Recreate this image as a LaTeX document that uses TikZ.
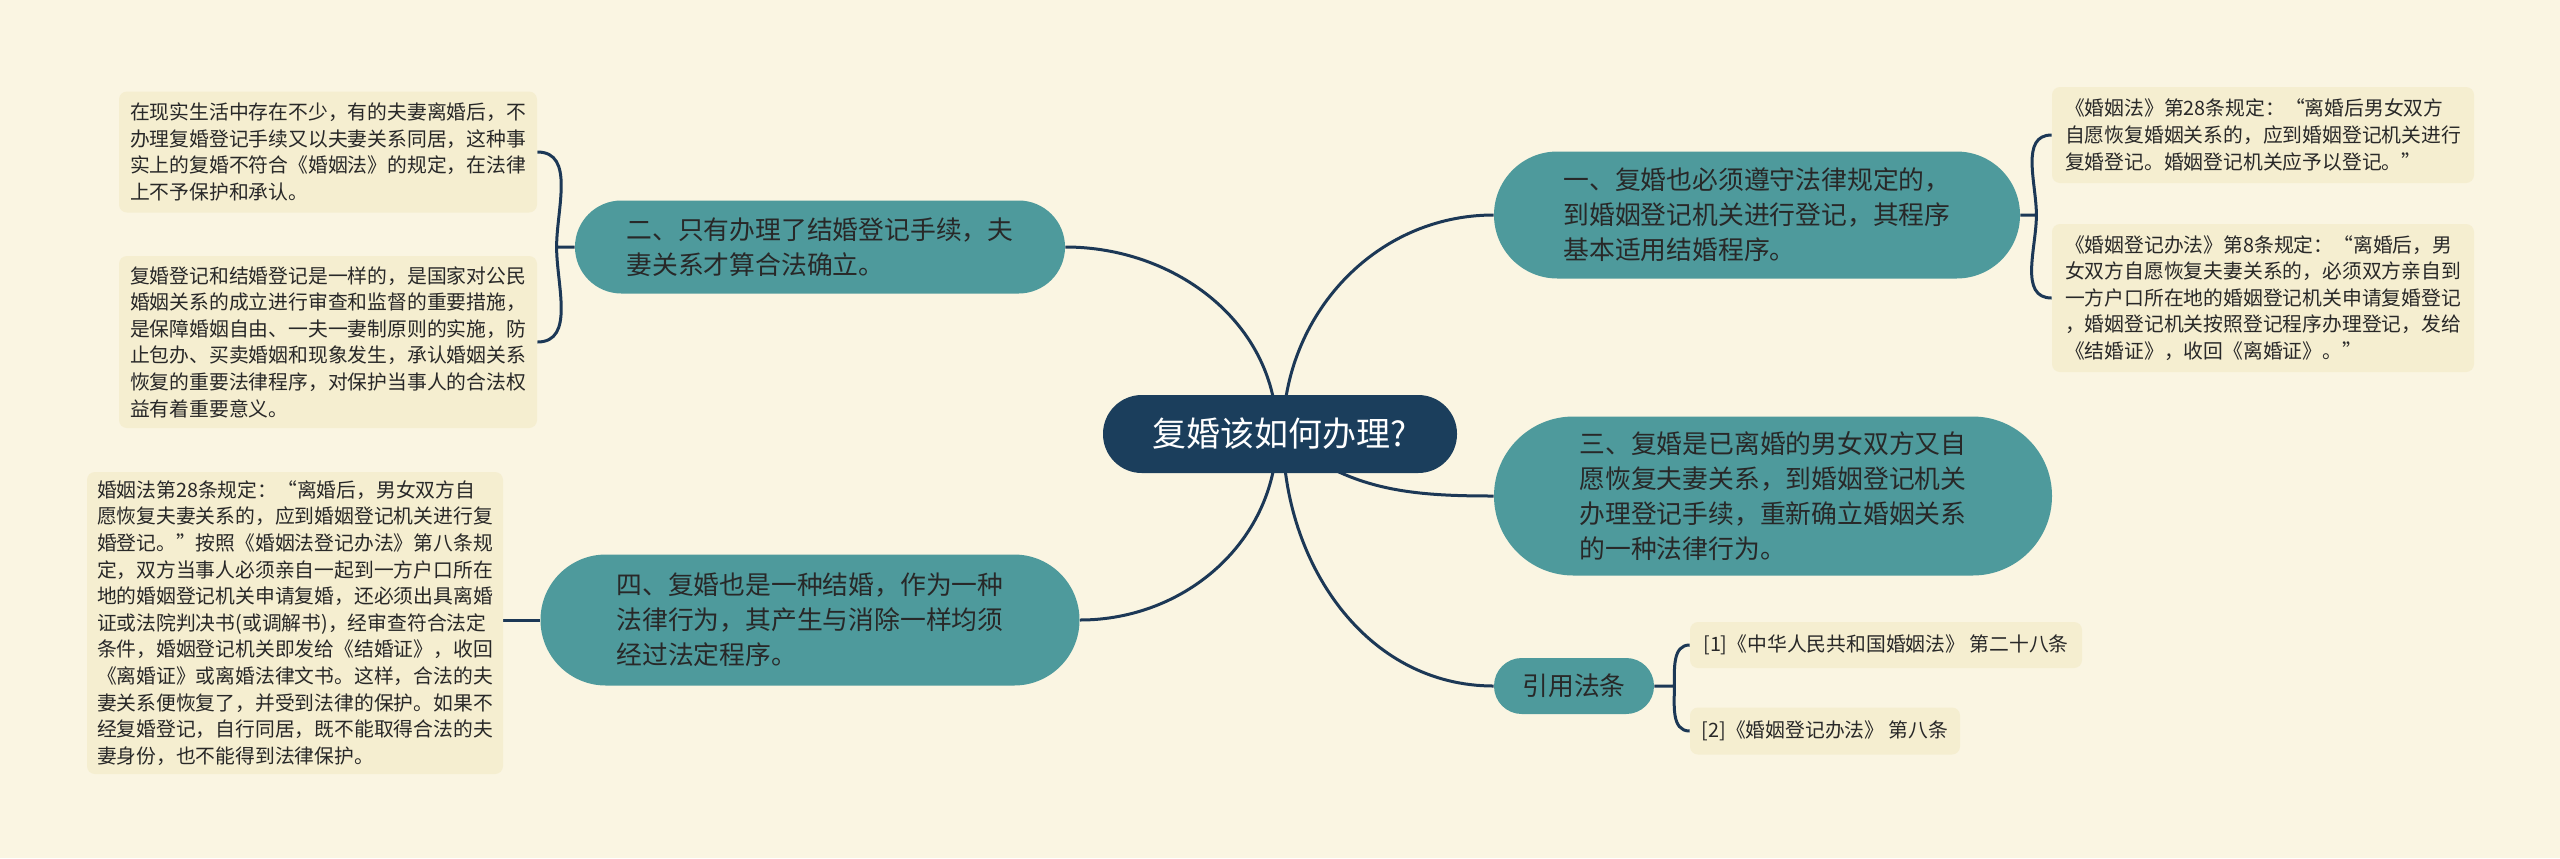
\documentclass[tikz,border=0pt]{standalone}
\usepackage{fontspec}
\setmainfont{Noto Sans CJK SC}
\usetikzlibrary{positioning}
\definecolor{paper}{RGB}{250,245,226}
\definecolor{leaffill}{RGB}{245,238,208}
\definecolor{branchteal}{RGB}{78,154,156}
\definecolor{rootnavy}{RGB}{27,62,92}
\definecolor{linknavy}{RGB}{28,56,86}
\definecolor{textgray}{RGB}{40,40,40}
\pgfdeclarelayer{paperlayer}
\pgfdeclarelayer{links}
\pgfsetlayers{paperlayer,links,main}
\begin{document}
\begin{tikzpicture}[x=0.5pt,y=-0.5pt,
  root/.style={fill=rootnavy,text=white,font=\fontsize{17pt}{20pt}\selectfont,
    minimum width=177pt,minimum height=39pt,rounded corners=19.4pt,inner sep=0pt},
  branch/.style={fill=branchteal,text=textgray,font=\fontsize{12.9pt}{17.5pt}\selectfont,
    align=left,inner sep=0pt,rounded corners=#1},
  leaf/.style={fill=leaffill,text=textgray,font=\fontsize{9.9pt}{13.3pt}\selectfont,
    align=left,inner sep=0pt,rounded corners=4pt},
  link/.style={draw=linknavy,line width=1.5pt}]
\begin{pgfonlayer}{paperlayer}
\fill[paper] (0,0) rectangle (2560,858);
\end{pgfonlayer}
\useasboundingbox (0,0) rectangle (2560,858);

\node[root] (hub) at (1280,434) {复婚该如何办理?};

\node[branch=31.7pt,minimum width=263pt,minimum height=63.5pt] (n1) at (1757,215)
  {一、复婚也必须遵守法律规定的，\\到婚姻登记机关进行登记，其程序\\基本适用结婚程序。};
\node[branch=23.2pt,minimum width=245pt,minimum height=46.5pt] (n2) at (820,247)
  {二、只有办理了结婚登记手续，夫\\妻关系才算合法确立。};
\node[branch=39.7pt,minimum width=279pt,minimum height=79.5pt] (n3) at (1773,496)
  {三、复婚是已离婚的男女双方又自\\愿恢复夫妻关系，到婚姻登记机关\\办理登记手续，重新确立婚姻关系\\的一种法律行为。};
\node[branch=32.7pt,minimum width=269.5pt,minimum height=65.5pt] (n4) at (810,620)
  {四、复婚也是一种结婚，作为一种\\法律行为，其产生与消除一样均须\\经过法定程序。};
\node[branch=13.9pt,minimum width=80pt,minimum height=28pt] (ref) at (1574,686) {引用法条};

\node[leaf,minimum width=209pt,minimum height=60.5pt] (l1) at (328,152)
  {在现实生活中存在不少，有的夫妻离婚后，不\\办理复婚登记手续又以夫妻关系同居，这种事\\实上的复婚不符合《婚姻法》的规定，在法律\\上不予保护和承认。};
\node[leaf,minimum width=209pt,minimum height=86pt] (l2) at (328,342)
  {复婚登记和结婚登记是一样的，是国家对公民\\婚姻关系的成立进行审查和监督的重要措施，\\是保障婚姻自由、一夫一妻制原则的实施，防\\止包办、买卖婚姻和现象发生，承认婚姻关系\\恢复的重要法律程序，对保护当事人的合法权\\益有着重要意义。};
\node[leaf,minimum width=208pt,minimum height=151pt] (l3) at (295,623)
  {婚姻法第28条规定：“离婚后，男女双方自\\愿恢复夫妻关系的，应到婚姻登记机关进行复\\婚登记。”按照《婚姻法登记办法》第八条规\\定，双方当事人必须亲自一起到一方户口所在\\地的婚姻登记机关申请复婚，还必须出具离婚\\证或法院判决书(或调解书)，经审查符合法定\\条件，婚姻登记机关即发给《结婚证》，收回\\《离婚证》或离婚法律文书。这样，合法的夫\\妻关系便恢复了，并受到法律的保护。如果不\\经复婚登记，自行同居，既不能取得合法的夫\\妻身份，也不能得到法律保护。};
\node[leaf,minimum width=211pt,minimum height=48pt] (r1) at (2263,135)
  {《婚姻法》第28条规定：“离婚后男女双方\\自愿恢复婚姻关系的，应到婚姻登记机关进行\\复婚登记。婚姻登记机关应予以登记。”};
\node[leaf,minimum width=211pt,minimum height=74pt] (r2) at (2263,298)
  {《婚姻登记办法》第8条规定：“离婚后，男\\女双方自愿恢复夫妻关系的，必须双方亲自到\\一方户口所在地的婚姻登记机关申请复婚登记\\，婚姻登记机关按照登记程序办理登记，发给\\《结婚证》，收回《离婚证》。”};
\node[leaf,minimum width=196pt,minimum height=23pt] (c1) at (1886,645)
  {[1]《中华人民共和国婚姻法》 第二十八条};
\node[leaf,minimum width=135pt,minimum height=23.5pt] (c2) at (1825,731)
  {[2]《婚姻登记办法》 第八条};

\coordinate (j1) at ([xshift=8pt]n1.east);
\coordinate (j2) at ([xshift=-9pt]n2.west);
\coordinate (jr) at ([xshift=10pt]ref.east);

\begin{pgfonlayer}{links}
\draw[link] ([xshift=1.5pt]hub.center) to[out=90,in=180] (n1.west);
\draw[link] ([xshift=-1.5pt]hub.center) to[out=90,in=0] (n2.east);
\draw[link] (hub.center) to[out=-40,in=180] (n3.west);
\draw[link] ([xshift=-1.5pt]hub.center) to[out=-90,in=0] (n4.east);
\draw[link] ([xshift=1.5pt]hub.center) to[out=-90,in=180] (ref.west);
\draw[link] (n1.east) -- (j1) to[out=90,in=180] (r1.west);
\draw[link] (j1) to[out=-90,in=180] (r2.west);
\draw[link] (n2.west) -- (j2) to[out=90,in=0] (l1.east);
\draw[link] (j2) to[out=-90,in=0] (l2.east);
\draw[link] (n4.west) -- (n4.west -| l3.east);
\draw[link] (ref.east) -- (jr) to[out=90,in=180] (c1.west);
\draw[link] (jr) to[out=-90,in=180] (c2.west);
\end{pgfonlayer}
\end{tikzpicture}
\end{document}
